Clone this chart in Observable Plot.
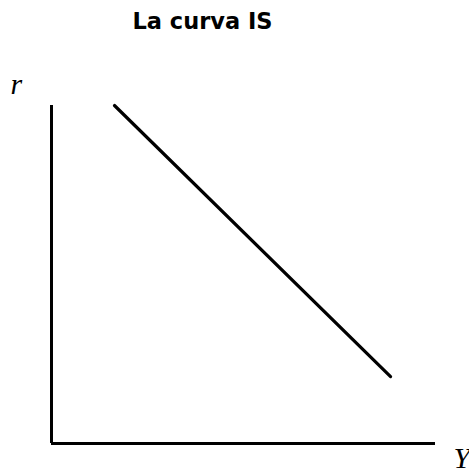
<!DOCTYPE html>
<html>
<head>
<meta charset="utf-8">
<script src="https://cdn.jsdelivr.net/npm/d3@7"></script>
<script src="https://cdn.jsdelivr.net/npm/@observablehq/plot@0.6"></script>
<style>
  html, body { margin: 0; padding: 0; background: #fff; }
</style>
</head>
<body>
<div id="chart"></div>
<script>
// IS curve: output Y against interest rate r (schematic, 0–100 units)
const isY = [16.4, 88.3];
const isR = [100, 19.8];
const title = "La curva IS";
const xLabel = "Y";
const yLabel = "r";

const curve = isY.map((y, i) => ({Y: y, r: isR[i]}));

const chart = Plot.plot({
  width: 469,
  height: 470,
  marginLeft: 51,
  marginRight: 34,
  marginTop: 105,
  marginBottom: 27,
  x: {domain: [0, 100], axis: null},
  y: {domain: [0, 100], axis: null},
  style: {background: "#fff"},
  marks: [
    Plot.ruleX([0], {y1: 0, y2: 100, stroke: "#000", strokeWidth: 3, strokeLinecap: "butt"}),
    Plot.ruleY([0], {x1: 0, x2: 100, stroke: "#000", strokeWidth: 3, strokeLinecap: "butt"}),
    Plot.line(curve, {x: "Y", y: "r", stroke: "#000", strokeWidth: 3.2}),
    Plot.text([title], {
      frameAnchor: "top", text: d => d, dx: -41, dy: -92,
      fontFamily: "DejaVu Sans", fontWeight: "bold", fontSize: 22.5, fill: "#000"
    }),
    Plot.text([yLabel], {
      frameAnchor: "top-left", textAnchor: "start", text: d => d, dx: -41, dy: -33,
      fontFamily: "Liberation Serif", fontStyle: "italic", fontSize: 30, fill: "#000"
    }),
    Plot.text([xLabel], {
      frameAnchor: "bottom-right", textAnchor: "start", text: d => d, dx: 18, dy: 24,
      fontFamily: "Liberation Serif", fontStyle: "italic", fontSize: 30, fill: "#000"
    })
  ]
});
document.getElementById("chart").appendChild(chart);
</script>
</body>
</html>
